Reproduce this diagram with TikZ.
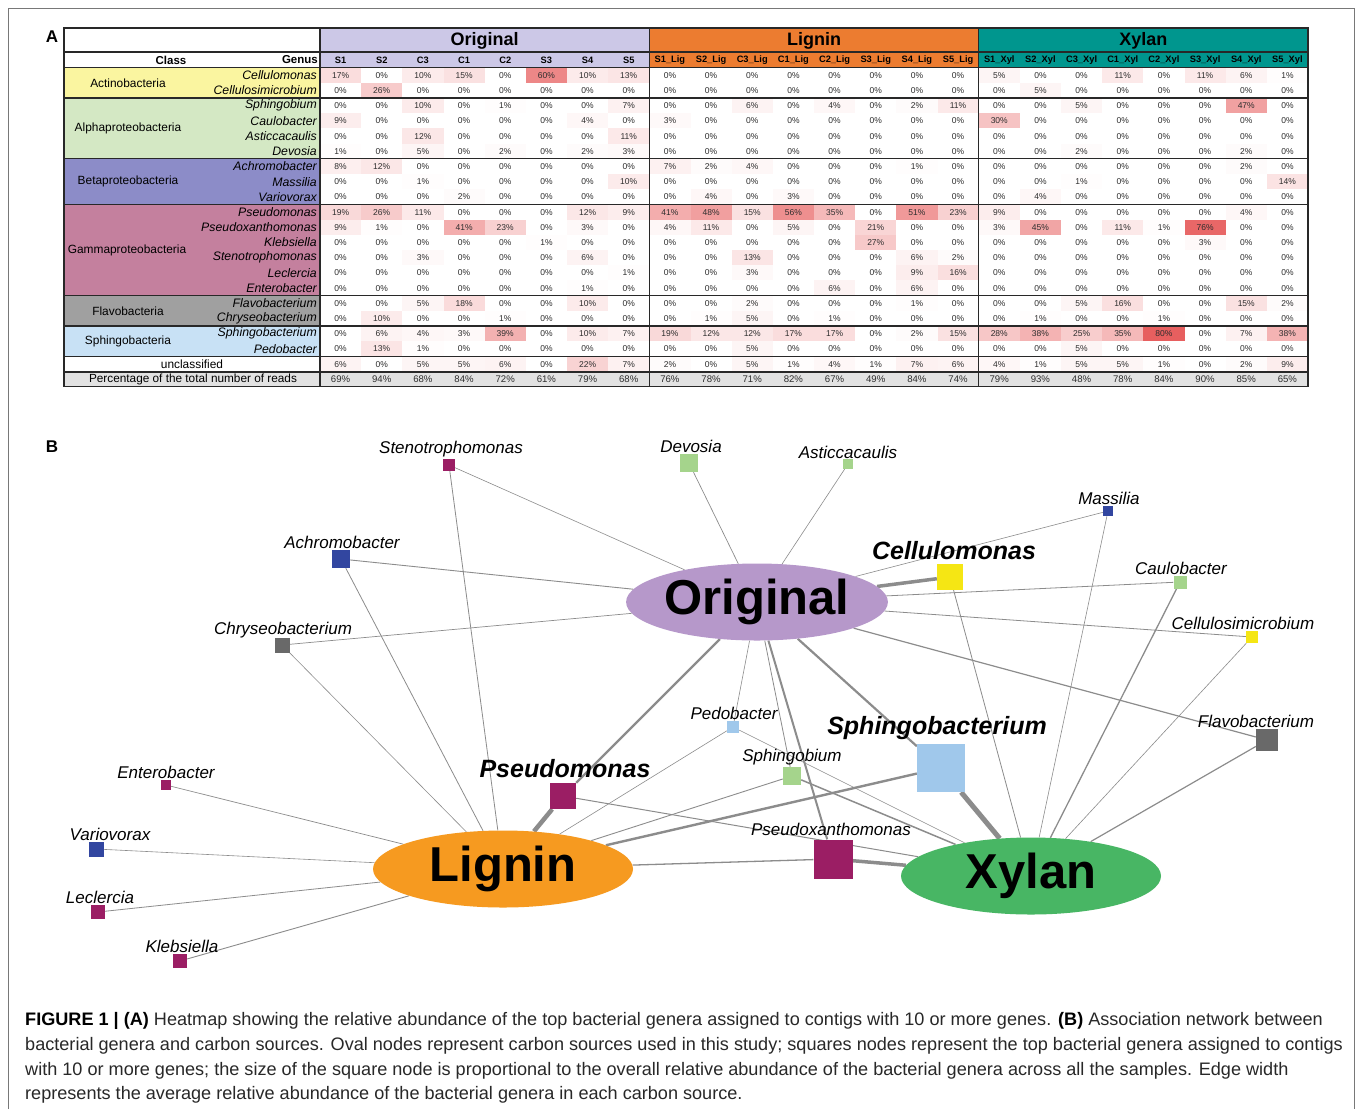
\documentclass[tikz,border=0pt]{standalone}
\usepackage{fontspec}
\setmainfont{Liberation Sans}
\usetikzlibrary{shapes.geometric,backgrounds}
\definecolor{hmred}{RGB}{225,55,55}
\definecolor{orighead}{RGB}{204,200,231}
\definecolor{lighead}{RGB}{236,124,48}
\definecolor{xylhead}{RGB}{0,150,142}
\definecolor{clsact}{RGB}{250,245,160}
\definecolor{clsalp}{RGB}{212,232,196}
\definecolor{clsbet}{RGB}{140,140,200}
\definecolor{clsgam}{RGB}{196,128,158}
\definecolor{clsfla}{RGB}{160,160,160}
\definecolor{clssph}{RGB}{200,225,245}
\definecolor{pctgray}{RGB}{226,226,226}
\definecolor{gGreen}{RGB}{165,212,140}
\definecolor{gBlue}{RGB}{50,70,160}
\definecolor{gMag}{RGB}{155,30,100}
\definecolor{gGray}{RGB}{105,105,105}
\definecolor{gLBlue}{RGB}{160,200,235}
\definecolor{gYel}{RGB}{245,230,20}
\definecolor{ovOrig}{RGB}{182,152,202}
\definecolor{ovLig}{RGB}{246,154,32}
\definecolor{ovXyl}{RGB}{72,182,100}
\definecolor{edgegray}{RGB}{140,140,140}
\definecolor{datagray}{RGB}{45,45,45}
\definecolor{capgray}{RGB}{40,40,40}
\definecolor{gridline}{RGB}{40,40,40}
\definecolor{framegray}{RGB}{120,120,120}
\tikzset{
  datatxt/.style={inner sep=0pt, text=datagray, font=\fontsize{8.5}{9}\selectfont},
  pcttxt/.style={inner sep=0pt, text=datagray, font=\fontsize{9.6}{10}\selectfont},
  coltxt/.style={inner sep=0pt, font=\bfseries\fontsize{9.3}{10}\selectfont},
  genustxt/.style={inner sep=0pt, anchor=east, font=\itshape\fontsize{12.3}{13}\selectfont},
  clstxt/.style={inner sep=0pt, font=\fontsize{11.9}{12}\selectfont},
  headtxt/.style={inner sep=0pt, font=\bfseries\fontsize{18}{20}\selectfont},
  sep/.style={draw=gridline, line width=1.2pt},
  oval/.style={ellipse, draw=none, inner sep=0pt, minimum width=260pt, minimum height=77pt, font=\bfseries\fontsize{49}{50}\selectfont},
  gsq/.style={rectangle, draw=none, inner sep=0pt, minimum size=#1},
  netlab/.style={inner sep=0pt, font=\itshape\fontsize{17}{18}\selectfont},
  biglab/.style={inner sep=0pt, font=\bfseries\itshape\fontsize{25}{26}\selectfont},
  edge/.style={draw=edgegray},
  captxt/.style={inner sep=0pt, anchor=base west, text=capgray, font=\fontsize{18.1}{20}\selectfont},
  panel/.style={inner sep=0pt, font=\bfseries\fontsize{17}{18}\selectfont}
}
\begin{document}
\begin{tikzpicture}[x=1pt,y=-1pt]
\useasboundingbox (0,0) rectangle (1357,1109);
\begin{scope}[on background layer]
\fill[white] (0,0) rectangle (1357,1109);
\end{scope}
% frame
\draw[framegray, line width=0.9pt] (8,1109) -- (8,8) -- (1354,8) -- (1354,1109);
% panel labels
\node[panel] (labA) at (52,37) {A};
\node[panel] (labB) at (52,447) {B};
% ---------------- TABLE ----------------
\fill[orighead] (320,28) rectangle (649.33,67.5);
\fill[lighead] (649.33,28) rectangle (978.67,67.5);
\fill[xylhead] (978.67,28) rectangle (1308,67.5);
\fill[clsact] (64,67.5) rectangle (320,97.9);
\fill[clsalp] (64,97.9) rectangle (320,158.7);
\fill[clsbet] (64,158.7) rectangle (320,204.3);
\fill[clsgam] (64,204.3) rectangle (320,295.5);
\fill[clsfla] (64,295.5) rectangle (320,325.9);
\fill[clssph] (64,325.9) rectangle (320,356.3);
\fill[pctgray] (64,371.5) rectangle (1308,386.7);
\foreach \rowvals [count=\r from 0] in {%
 {17,0,10,15,0,60,10,13,0,0,0,0,0,0,0,0,5,0,0,11,0,11,6,1},%
 {0,26,0,0,0,0,0,0,0,0,0,0,0,0,0,0,0,5,0,0,0,0,0,0},%
 {0,0,10,0,1,0,0,7,0,0,6,0,4,0,2,11,0,0,5,0,0,0,47,0},%
 {9,0,0,0,0,0,4,0,3,0,0,0,0,0,0,0,30,0,0,0,0,0,0,0},%
 {0,0,12,0,0,0,0,11,0,0,0,0,0,0,0,0,0,0,0,0,0,0,0,0},%
 {1,0,5,0,2,0,2,3,0,0,0,0,0,0,0,0,0,0,2,0,0,0,2,0},%
 {8,12,0,0,0,0,0,0,7,2,4,0,0,0,1,0,0,0,0,0,0,0,2,0},%
 {0,0,1,0,0,0,0,10,0,0,0,0,0,0,0,0,0,0,1,0,0,0,0,14},%
 {0,0,0,2,0,0,0,0,0,4,0,3,0,0,0,0,0,4,0,0,0,0,0,0},%
 {19,26,11,0,0,0,12,9,41,48,15,56,35,0,51,23,9,0,0,0,0,0,4,0},%
 {9,1,0,41,23,0,3,0,4,11,0,5,0,21,0,0,3,45,0,11,1,76,0,0},%
 {0,0,0,0,0,1,0,0,0,0,0,0,0,27,0,0,0,0,0,0,0,3,0,0},%
 {0,0,3,0,0,0,6,0,0,0,13,0,0,0,6,2,0,0,0,0,0,0,0,0},%
 {0,0,0,0,0,0,0,1,0,0,3,0,0,0,9,16,0,0,0,0,0,0,0,0},%
 {0,0,0,0,0,0,1,0,0,0,0,0,6,0,6,0,0,0,0,0,0,0,0,0},%
 {0,0,5,18,0,0,10,0,0,0,2,0,0,0,1,0,0,0,5,16,0,0,15,2},%
 {0,10,0,0,1,0,0,0,0,1,5,0,1,0,0,0,0,1,0,0,1,0,0,0},%
 {0,6,4,3,39,0,10,7,19,12,12,17,17,0,2,15,28,38,25,35,80,0,7,38},%
 {0,13,1,0,0,0,0,0,0,0,5,0,0,0,0,0,0,0,5,0,0,0,0,0},%
 {6,0,5,5,6,0,22,7,2,0,5,1,4,1,7,6,4,1,5,5,1,0,2,9}}{%
 \foreach \v [count=\c from 0] in \rowvals {%
   \pgfmathsetmacro\xa{320+41.1667*\c}%
   \pgfmathsetmacro\ya{67.5+15.2*\r}%
   \fill[hmred!\v!white] (\xa,\ya) rectangle ++(41.1667,15.2);
   \node[datatxt] (d-\r-\c) at (\xa+20.58,\ya+7.8) {\v\%};
 }%
}
\foreach \v [count=\c from 0] in {69,94,68,84,72,61,79,68,76,78,71,82,67,49,84,74,79,93,48,78,84,90,85,65} {%
   \pgfmathsetmacro\xa{320+41.1667*\c}%
   \node[pcttxt] (p-\c) at (\xa+20.58,379.3) {\v\%};
}
\foreach \yy in {97.9,158.7,204.3,295.5,325.9,356.3} {
  \draw[sep] (64,\yy) -- (1308,\yy);
}
\draw[gridline, line width=2pt] (64,371.5) -- (1308,371.5);
\draw[sep] (64,52) -- (1308,52);
\draw[sep] (64,67.5) -- (1308,67.5);
\foreach \xx in {320,649.33,978.67} {
  \draw[sep] (\xx,28) -- (\xx,386.7);
}
\draw[gridline, line width=1.5pt] (64,28) rectangle (1308,386.7);
\node[headtxt] (h-orig) at (484.7,40.5) {Original};
\node[headtxt] (h-lig) at (814,40.5) {Lignin};
\node[headtxt] (h-xyl) at (1143.3,40.5) {Xylan};
\node[inner sep=0pt, font=\bfseries\fontsize{11.5}{12}\selectfont] (h-class) at (171,60) {Class};
\node[inner sep=0pt, anchor=east, font=\bfseries\fontsize{11.5}{12}\selectfont] (h-genus) at (318,60) {Genus};
\foreach \lab [count=\c from 0] in {S1,S2,C3,C1,C2,S3,S4,S5,S1\_Lig,S2\_Lig,C3\_Lig,C1\_Lig,C2\_Lig,S3\_Lig,S4\_Lig,S5\_Lig,S1\_Xyl,S2\_Xyl,C3\_Xyl,C1\_Xyl,C2\_Xyl,S3\_Xyl,S4\_Xyl,S5\_Xyl} {
  \node[coltxt] (col-\c) at (320+41.1667*\c+20.58,60.2) {\lab};
}
\foreach \g [count=\r from 0] in {Cellulomonas,Cellulosimicrobium,Sphingobium,Caulobacter,Asticcacaulis,Devosia,Achromobacter,Massilia,Variovorax,Pseudomonas,Pseudoxanthomonas,Klebsiella,Stenotrophomonas,Leclercia,Enterobacter,Flavobacterium,Chryseobacterium,Sphingobacterium,Pedobacter} {
  \node[genustxt] (g-\r) at (317,67.5+15.2*\r+7.8) {\g};
}
\node[clstxt] (c-act) at (128,82.9) {Actinobacteria};
\node[clstxt] (c-alp) at (128,128.5) {Alphaproteobacteria};
\node[clstxt] (c-bet) at (128,181.7) {Betaproteobacteria};
\node[clstxt] (c-gam) at (127,250.1) {Gammaproteobacteria};
\node[clstxt] (c-fla) at (128,310.9) {Flavobacteria};
\node[clstxt] (c-sph) at (128,341.3) {Sphingobacteria};
\node[clstxt] (c-unc) at (192,364.1) {unclassified};
\node[inner sep=0pt, font=\fontsize{11.8}{12}\selectfont] (c-pct) at (193,379.5) {Percentage of the total number of reads};
% ---------------- NETWORK ----------------
\node[oval, fill=ovOrig] (orig) at (757,602) {Original};
\node[oval, fill=ovLig] (lig) at (503,869) {Lignin};
\node[oval, fill=ovXyl] (xyl) at (1031,876) {Xylan};
\node[gsq=12pt, fill=gMag] (steno) at (449,465) {};
\node[gsq=18pt, fill=gGreen] (devosia) at (689,463) {};
\node[gsq=10pt, fill=gGreen] (astic) at (848,464) {};
\node[gsq=10pt, fill=gBlue] (massilia) at (1108,511) {};
\node[gsq=18pt, fill=gBlue] (achro) at (341,559) {};
\node[gsq=26pt, fill=gYel] (cellulo) at (950,577) {};
\node[gsq=13pt, fill=gGreen] (caulo) at (1180,582) {};
\node[gsq=15pt, fill=gGray] (chryseo) at (282,645) {};
\node[gsq=12pt, fill=gYel] (cellsim) at (1252,637) {};
\node[gsq=12pt, fill=gLBlue] (pedo) at (733,727) {};
\node[gsq=48pt, fill=gLBlue] (sphbact) at (941,768) {};
\node[gsq=22pt, fill=gGray] (flavo) at (1267,740) {};
\node[gsq=18pt, fill=gGreen] (sphbium) at (792,776) {};
\node[gsq=10pt, fill=gMag] (entero) at (166,785) {};
\node[gsq=26pt, fill=gMag] (pseudo) at (563,796) {};
\node[gsq=39pt, fill=gMag] (pxanth) at (833,859) {};
\node[gsq=15pt, fill=gBlue] (vario) at (96,849) {};
\node[gsq=14pt, fill=gMag] (lecl) at (98,912) {};
\node[gsq=14pt, fill=gMag] (kleb) at (180,961) {};
\node[netlab] (l-steno) at (451,449) {Stenotrophomonas};
\node[netlab] (l-devosia) at (691,446) {Devosia};
\node[netlab] (l-astic) at (848,452) {Asticcacaulis};
\node[netlab] (l-massilia) at (1109,498) {Massilia};
\node[netlab] (l-achro) at (342,542) {Achromobacter};
\node[biglab] (l-cellulo) at (954,551) {Cellulomonas};
\node[netlab] (l-caulo) at (1181,568) {Caulobacter};
\node[netlab] (l-chryseo) at (283,630) {Chryseobacterium};
\node[netlab] (l-cellsim) at (1243,623) {Cellulosimicrobium};
\node[netlab] (l-pedo) at (734,713) {Pedobacter};
\node[biglab] (l-sphbact) at (937,728) {Sphingobacterium};
\node[netlab] (l-flavo) at (1256,721) {Flavobacterium};
\node[netlab] (l-sphbium) at (792,757) {Sphingobium};
\node[netlab] (l-entero) at (166,772) {Enterobacter};
\node[biglab] (l-pseudo) at (565,769) {Pseudomonas};
\node[netlab] (l-pxanth) at (831,829) {Pseudoxanthomonas};
\node[netlab] (l-vario) at (110,834) {Variovorax};
\node[netlab] (l-lecl) at (100,897) {Leclercia};
\node[netlab] (l-kleb) at (182,946) {Klebsiella};
\begin{scope}[on background layer]
\draw[edge, line width=0.6pt] (steno) -- (orig);
\draw[edge, line width=0.7pt] (devosia) -- (orig);
\draw[edge, line width=0.6pt] (astic) -- (orig);
\draw[edge, line width=0.6pt] (massilia) -- (orig);
\draw[edge, line width=0.9pt] (achro) -- (orig);
\draw[edge, line width=3.5pt] (cellulo) -- (orig);
\draw[edge, line width=0.8pt] (caulo) -- (orig);
\draw[edge, line width=0.7pt] (chryseo) -- (orig);
\draw[edge, line width=0.8pt] (cellsim) -- (orig);
\draw[edge, line width=1.2pt] (flavo) -- (orig);
\draw[edge, line width=2.2pt] (pseudo) -- (orig);
\draw[edge, line width=0.6pt] (pedo) -- (orig);
\draw[edge, line width=0.8pt] (sphbium) -- (orig);
\draw[edge, line width=2.0pt] (pxanth) -- (orig);
\draw[edge, line width=2.2pt] (sphbact) -- (orig);
\draw[edge, line width=0.8pt] (steno) -- (lig);
\draw[edge, line width=0.8pt] (achro) -- (lig);
\draw[edge, line width=0.6pt] (chryseo) -- (lig);
\draw[edge, line width=0.7pt] (entero) -- (lig);
\draw[edge, line width=0.6pt] (vario) -- (lig);
\draw[edge, line width=0.8pt] (lecl) -- (lig);
\draw[edge, line width=0.9pt] (kleb) -- (lig);
\draw[edge, line width=4.5pt] (pseudo) -- (lig);
\draw[edge, line width=0.6pt] (pedo) -- (lig);
\draw[edge, line width=0.9pt] (sphbium) -- (lig);
\draw[edge, line width=2.4pt] (sphbact) -- (lig);
\draw[edge, line width=1.3pt] (pxanth) -- (lig);
\draw[edge, line width=0.8pt] (cellulo) -- (xyl);
\draw[edge, line width=0.6pt] (massilia) -- (xyl);
\draw[edge, line width=1.3pt] (caulo) -- (xyl);
\draw[edge, line width=0.6pt] (cellsim) -- (xyl);
\draw[edge, line width=1.2pt] (flavo) -- (xyl);
\draw[edge, line width=5pt] (sphbact) -- (xyl);
\draw[edge, line width=3.5pt] (pxanth) -- (xyl);
\draw[edge, line width=1.0pt] (pseudo) -- (xyl);
\draw[edge, line width=0.6pt] (pedo) -- (xyl);
\draw[edge, line width=1.5pt] (sphbium) -- (xyl);
\end{scope}
% ---------------- CAPTION ----------------
\node[captxt] (cap1) at (25,1025) {\textcolor{black}{\bfseries FIGURE 1 | (A)} Heatmap showing the relative abundance of the top bacterial genera assigned to contigs with 10 or more genes. \textcolor{black}{\bfseries (B)} Association network between};
\node[captxt] (cap2) at (25,1050) {bacterial genera and carbon sources. Oval nodes represent carbon sources used in this study; squares nodes represent the top bacterial genera assigned to contigs};
\node[captxt] (cap3) at (25,1075) {with 10 or more genes; the size of the square node is proportional to the overall relative abundance of the bacterial genera across all the samples. Edge width};
\node[captxt] (cap4) at (25,1099) {represents the average relative abundance of the bacterial genera in each carbon source.};
\end{tikzpicture}
\end{document}
